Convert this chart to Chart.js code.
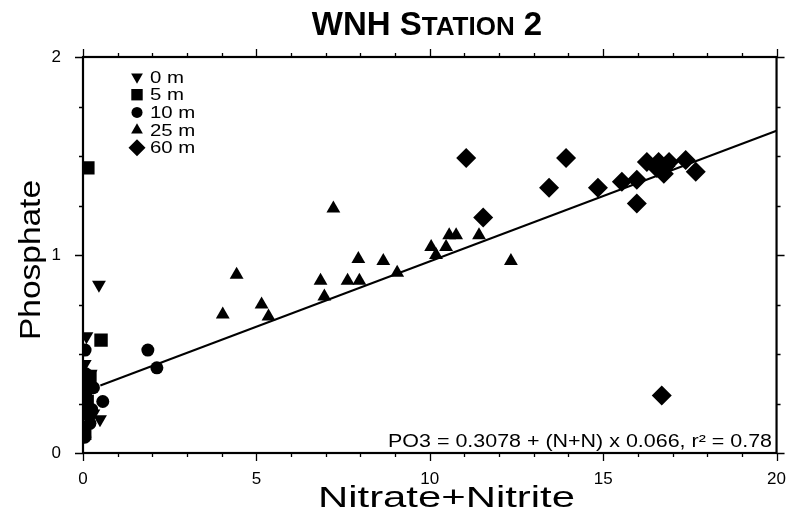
<!DOCTYPE html>
<html>
<head>
<meta charset="utf-8">
<script src="https://cdn.jsdelivr.net/npm/chart.js@4/dist/chart.umd.min.js"></script>
<style>
  html, body { margin: 0; padding: 0; background: #fff; }
</style>
</head>
<body>
<canvas id="wnhChart" width="794" height="523"></canvas>
<script>
// Depth groups and their readings (Nitrate+Nitrite, Phosphate)
const depthLabels = ["0 m", "5 m", "10 m", "25 m", "60 m"];

const nn0m = [0.46, 0.49, 0.10, 0.05, 0.15, 0.30, 0.10, 0.22];
const po0m = [0.85, 0.17, 0.59, 0.45, 0.30, 0.20, 0.12, 0.40];

const nn5m = [0.14, 0.52, 0.05, 0.10, 0.20, 0.05, 0.12];
const po5m = [1.44, 0.57, 0.30, 0.20, 0.38, 0.10, 0.26];

const nn10m = [1.87, 2.13, 0.06, 0.57, 0.15, 0.30, 0.10, 0.20, 0.05, 0.25, 0.08];
const po10m = [0.52, 0.43, 0.52, 0.26, 0.35, 0.33, 0.25, 0.15, 0.08, 0.22, 0.40];

const nn25m = [4.03, 4.43, 5.15, 5.35, 6.85, 6.96, 7.22, 7.63, 7.94, 7.97, 8.66, 9.06, 10.04, 10.18, 10.47, 10.56, 10.76, 11.42, 12.34];
const po25m = [0.70, 0.90, 0.75, 0.69, 0.87, 0.79, 1.235, 0.87, 0.98, 0.87, 0.97, 0.91, 1.04, 1.00, 1.04, 1.10, 1.10, 1.10, 0.97];

const nn60m = [11.05, 11.54, 13.44, 13.93, 14.85, 15.54, 15.97, 15.97, 16.26, 16.55, 16.60, 16.75, 16.90, 17.38, 17.67, 16.69, 16.80];
const po60m = [1.49, 1.19, 1.34, 1.49, 1.34, 1.37, 1.38, 1.26, 1.47, 1.44, 1.47, 1.41, 1.47, 1.48, 1.42, 0.29, 1.45];

const xTicks = [0, 5, 10, 15, 20];
const yTicks = [0, 1, 2];

// Regression shown on the chart: PO3 = 0.3078 + (N+N) x 0.066
const fitIntercept = 0.3078;
const fitSlope = 0.066;
const fitFrom = 0.5;
const fitTo = 20;

const FONT = "'Liberation Sans', Arial, Helvetica, sans-serif";

function pairs(xs, ys) {
  return xs.map((x, i) => ({ x: x, y: ys[i] }));
}

function marker(label, xs, ys, style, radius, rotation) {
  return {
    label: label,
    data: pairs(xs, ys),
    pointStyle: style,
    pointRadius: radius,
    pointRotation: rotation || 0,
    pointBackgroundColor: "#000",
    pointBorderColor: "#000",
    pointBorderWidth: 0,
    pointHoverRadius: radius
  };
}

// draw text squeezed or stretched horizontally
function wideText(ctx, text, x, y, sx) {
  ctx.save();
  ctx.translate(x, y);
  ctx.scale(sx, 1);
  ctx.fillText(text, 0, 0);
  ctx.restore();
}

const framePlugin = {
  id: "frame",
  afterDraw(chart) {
    const ctx = chart.ctx;
    const a = chart.chartArea;
    const xs = chart.scales.x;
    const ys = chart.scales.y;
    ctx.save();
    ctx.strokeStyle = "#000";
    ctx.lineWidth = 2.2;
    ctx.strokeRect(a.left, a.top, a.right - a.left, a.bottom - a.top);

    ctx.lineWidth = 1.3;
    ctx.beginPath();
    for (let v = 0; v <= 20; v += 1) {
      const px = Math.round(xs.getPixelForValue(v)) + 0.5;
      const len = v % 5 === 0 ? 8 : 4;
      ctx.moveTo(px, a.bottom); ctx.lineTo(px, a.bottom + len);
      ctx.moveTo(px, a.top); ctx.lineTo(px, a.top - len);
    }
    for (let v = 0; v <= 2; v += 0.25) {
      const py = Math.round(ys.getPixelForValue(v)) + 0.5;
      const len = v % 1 === 0 ? 8 : 4;
      ctx.moveTo(a.left, py); ctx.lineTo(a.left - len, py);
      ctx.moveTo(a.right, py); ctx.lineTo(a.right + len, py);
    }
    ctx.stroke();

    // title with small caps
    ctx.fillStyle = "#000";
    ctx.textBaseline = "alphabetic";
    ctx.textAlign = "left";
    const parts = [["WNH S", 33], ["TATION", 26], [" 2", 33]];
    let total = 0;
    parts.forEach(p => { ctx.font = "bold " + p[1] + "px " + FONT; total += ctx.measureText(p[0]).width; });
    let tx = 427 - total / 2;
    parts.forEach(p => {
      ctx.font = "bold " + p[1] + "px " + FONT;
      ctx.fillText(p[0], tx, 35);
      tx += ctx.measureText(p[0]).width;
    });

    // axis titles
    ctx.font = "30px " + FONT;
    ctx.textAlign = "left";
    const xt = "Nitrate+Nitrite";
    const xw = ctx.measureText(xt).width;
    wideText(ctx, xt, 318, 507, 257 / xw);

    const yt = "Phosphate";
    const yw = ctx.measureText(yt).width;
    ctx.save();
    ctx.translate(40, 340);
    ctx.rotate(-Math.PI / 2);
    wideText(ctx, yt, 0, 0, 160 / yw);
    ctx.restore();

    // regression equation
    ctx.font = "18px " + FONT;
    const eq = "PO3 = 0.3078 + (N+N) x 0.066, r\u00B2 = 0.78";
    const ew = ctx.measureText(eq).width;
    wideText(ctx, eq, 388, 447, 384 / ew);

    // legend inside the plot
    ctx.font = "17px " + FONT;
    ctx.textBaseline = "middle";
    chart.data.datasets.forEach((ds, i) => {
      if (ds.type === "line") return;
      const ly = 77 + i * 17.7;
      ctx.fillStyle = "#000";
      Chart.helpers.drawPoint(ctx, {
        pointStyle: ds.pointStyle,
        rotation: ds.pointRotation,
        radius: ds.pointRadius * 0.85,
        borderWidth: 0
      }, 137, ly);
      wideText(ctx, ds.label, 150, ly + 1, 1.2);
    });
    ctx.restore();
  }
};

new Chart(document.getElementById("wnhChart"), {
  type: "scatter",
  data: {
    datasets: [
      marker(depthLabels[0], nn0m, po0m, "triangle", 8, 180),
      marker(depthLabels[1], nn5m, po5m, "rect", 9.5),
      marker(depthLabels[2], nn10m, po10m, "circle", 6.5),
      marker(depthLabels[3], nn25m, po25m, "triangle", 8),
      marker(depthLabels[4], nn60m, po60m, "rectRot", 10),
      {
        type: "line",
        label: "fit",
        data: [
          { x: fitFrom, y: fitIntercept + fitSlope * fitFrom },
          { x: fitTo, y: fitIntercept + fitSlope * fitTo }
        ],
        borderColor: "#000",
        borderWidth: 2,
        pointRadius: 0,
        fill: false
      }
    ]
  },
  options: {
    responsive: false,
    animation: false,
    layout: { padding: { top: 57, right: 16, bottom: 0, left: 0 } },
    plugins: {
      legend: { display: false },
      tooltip: { enabled: false },
      title: { display: false }
    },
    scales: {
      x: {
        type: "linear",
        min: 0,
        max: 20,
        grid: { display: false },
        border: { display: false },
        afterBuildTicks: s => { s.ticks = xTicks.map(v => ({ value: v })); },
        afterFit: s => { s.height = 70; },
        ticks: { color: "#000", font: { family: FONT, size: 17 }, padding: 8, maxRotation: 0 }
      },
      y: {
        type: "linear",
        min: 0,
        max: 2,
        grid: { display: false },
        border: { display: false },
        afterBuildTicks: s => { s.ticks = yTicks.map(v => ({ value: v })); },
        afterFit: s => { s.width = 83; },
        ticks: { color: "#000", font: { family: FONT, size: 17 }, padding: 14 }
      }
    }
  },
  plugins: [framePlugin]
});
</script>
</body>
</html>
